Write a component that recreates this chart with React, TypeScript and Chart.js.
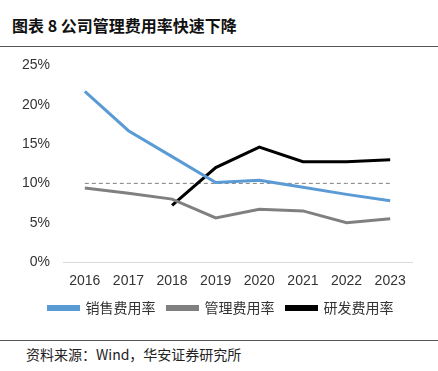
import React, { useEffect, useRef } from "react";
import { Chart, registerables } from "chart.js";

Chart.register(...registerables);

const years = ["2016", "2017", "2018", "2019", "2020", "2021", "2022", "2023"];
const salesRate = [21.7, 16.7, 13.4, 10.1, 10.4, 9.5, 8.6, 7.8];
const adminRate = [9.4, 8.75, 8.0, 5.6, 6.7, 6.5, 5.0, 5.5];
const rdRate = [null, null, 7.2, 12.0, 14.6, 12.75, 12.75, 13.0];
const refLine = [10, 10, 10, 10, 10, 10, 10, 10];
const seriesNames = ["销售费用率", "管理费用率", "研发费用率"];
const yTicks = [0, 5, 10, 15, 20, 25];

const FONT = "'Liberation Sans', Arial, 'Noto Sans CJK SC', sans-serif";
const CJK = "'Noto Sans CJK SC', 'Liberation Sans', sans-serif";

const legendShift = {
  id: "legendShift",
  afterUpdate(chart: any) {
    if (chart.legend) {
      chart.legend.left += 15;
      chart.legend.right += 15;
    }
  },
};

export default function App() {
  const ref = useRef<HTMLCanvasElement | null>(null);

  useEffect(() => {
    document.body.style.margin = "0";
    const ctx = ref.current;
    if (!ctx) return;
    const chart = new Chart(ctx, {
      type: "line",
      data: {
        labels: years,
        datasets: [
          {
            label: seriesNames[0],
            data: salesRate,
            borderColor: "#5B9BD5",
            backgroundColor: "#5B9BD5",
            borderWidth: 3,
            pointRadius: 0,
            tension: 0,
          },
          {
            label: seriesNames[1],
            data: adminRate,
            borderColor: "#808080",
            backgroundColor: "#808080",
            borderWidth: 3,
            pointRadius: 0,
            tension: 0,
          },
          {
            label: seriesNames[2],
            data: rdRate,
            borderColor: "#000000",
            backgroundColor: "#000000",
            borderWidth: 3,
            pointRadius: 0,
            tension: 0,
          },
          {
            label: "ref",
            data: refLine,
            borderColor: "#7F7F7F",
            backgroundColor: "#7F7F7F",
            borderWidth: 1,
            borderDash: [4, 3],
            pointRadius: 0,
            tension: 0,
          },
        ],
      },
      options: {
        animation: false,
        responsive: false,
        maintainAspectRatio: false,
        layout: { padding: { top: 4, right: 26, left: 0, bottom: 0 } },
        plugins: {
          legend: {
            position: "bottom",
            labels: {
              filter: (item) => item.datasetIndex !== 3,
              boxWidth: 30,
              boxHeight: 3,
              padding: 12,
              color: "#333",
              font: { family: CJK, size: 14 },
            },
          },
          tooltip: { enabled: false },
        },
        scales: {
          x: {
            offset: true,
            grid: { display: false, drawTicks: false },
            border: { color: "#D9D9D9", width: 1 },
            ticks: {
              color: "#333",
              font: { family: FONT, size: 14 },
              padding: 11,
              maxRotation: 0,
            },
            afterFit: (axis) => {
              axis.height = 27;
            },
          },
          y: {
            min: 0,
            max: 25,
            afterBuildTicks: (axis) => {
              axis.ticks = yTicks.map((v) => ({ value: v }));
            },
            afterFit: (axis) => {
              axis.width = 63;
            },
            grid: { display: false, drawTicks: false },
            border: { display: false },
            ticks: {
              color: "#333",
              font: { family: FONT, size: 14 },
              padding: 13,
              callback: (v) => v + "%",
            },
          },
        },
      },
      plugins: [legendShift],
    });
    return () => chart.destroy();
  }, []);

  return (
    <div style={{ position: "relative", width: 438, height: 371, background: "#fff", overflow: "hidden" }}>
      <div
        style={{
          position: "absolute",
          left: 12,
          top: 14,
          fontFamily: CJK,
          fontWeight: "bold",
          fontSize: 16,
          lineHeight: "22px",
          color: "#111",
          whiteSpace: "pre",
        }}
      >
        图表 8 公司管理费用率快速下降
      </div>
      <div style={{ position: "absolute", left: 0, top: 46, width: 438, height: 1, background: "#555" }} />
      <canvas ref={ref} width={438} height={281} style={{ position: "absolute", left: 0, top: 44, width: 438, height: 281 }} />
      <div style={{ position: "absolute", left: 0, top: 340, width: 438, height: 1, background: "#555" }} />
      <div
        style={{
          position: "absolute",
          left: 26,
          top: 344,
          fontFamily: CJK,
          fontSize: 14,
          lineHeight: "20px",
          color: "#222",
          whiteSpace: "pre",
        }}
      >
        资料来源：Wind，华安证券研究所
      </div>
    </div>
  );
}
